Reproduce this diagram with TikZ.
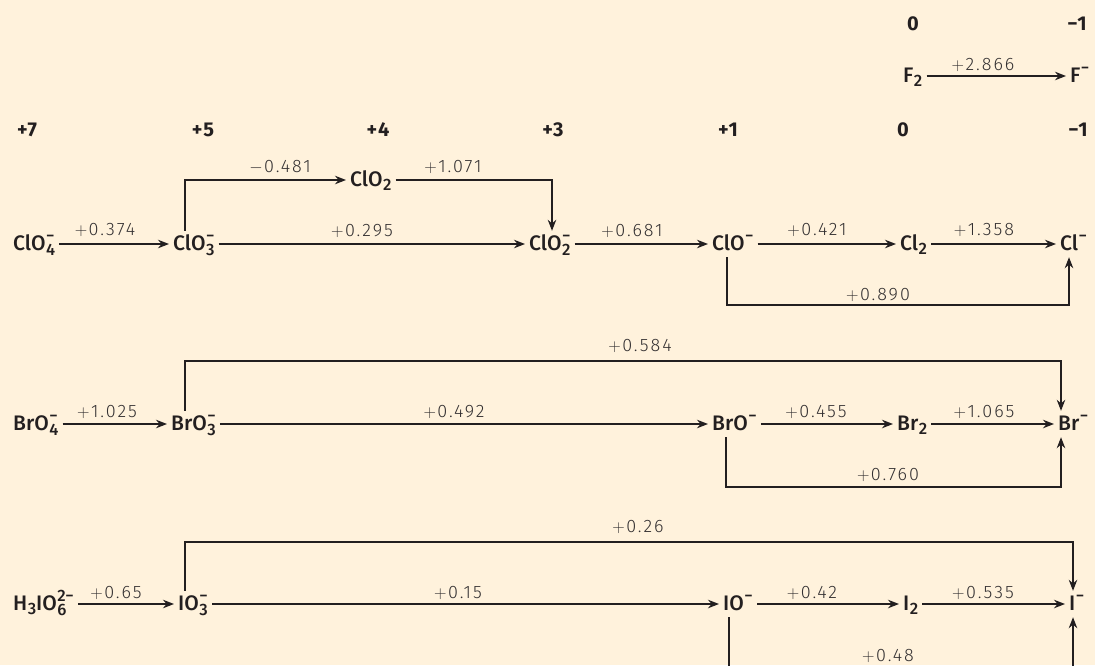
\documentclass[tikz,border=0pt]{standalone}
\usepackage{fontspec}
\setmainfont{Fira Sans}
\newfontfamily\potf{Fira Sans Light}[LetterSpace=11]
\newfontfamily\spf{Fira Sans Medium}
\newfontfamily\oxf{Fira Sans Bold}[LetterSpace=6]
\usetikzlibrary{arrows.meta}
\definecolor{bg}{HTML}{FFF2DC}
\definecolor{ink}{HTML}{231F20}
\definecolor{potc}{HTML}{333031}
\newcommand\subf{\spf\fontsize{16.5}{16.5}\selectfont}
\newcommand\SbSp[2]{\kern0.5pt\setbox0=\hbox{\raisebox{-5pt}{\subf #1}}%
  \setbox2=\hbox{\raisebox{9pt}{\subf #2}}%
  \ifdim\wd0>\wd2 \wd2=\wd0 \fi\rlap{\box0}\box2}
\newcommand\Sb[1]{\kern0.5pt\raisebox{-4.5pt}{\subf #1}}
\newcommand\Sp[1]{\kern0.5pt\raisebox{9pt}{\subf #1}}
\newcommand\Pl{\ensuremath{+}\kern1.5pt}
\newcommand\Mi{\ensuremath{-}\kern1.5pt}
\tikzset{
  sp/.style={inner xsep=4pt, inner ysep=3pt, text height=16pt, text depth=4pt,
    anchor=base west, font=\spf\fontsize{21}{21}\selectfont, text=ink},
  pot/.style={inner sep=0pt, anchor=center, font=\potf\fontsize{18}{18}\selectfont, text=potc},
  ox/.style={inner sep=0pt, anchor=center, font=\oxf\fontsize{20}{20}\selectfont, text=ink},
  conn/.style={draw=ink, line width=1.3pt},
  arr/.style={conn, -{Stealth[length=11pt,width=8.5pt]}}
}
\begin{document}
\begin{tikzpicture}[x=1pt,y=-1pt]
\fill[bg] (0,0) rectangle (1095,665);
\clip (0,0) rectangle (1095,665);
\useasboundingbox (0,0) rectangle (1095,665);
% oxidation states
\node[ox] (o1) at (913,24) {0};
\node[ox] (o2) at (1077,24) {−1};
\node[ox] (o3) at (27,130) {+7};
\node[ox] (o4) at (203,130) {+5};
\node[ox] (o5) at (378,130) {+4};
\node[ox] (o6) at (553,130) {+3};
\node[ox] (o7) at (728,130) {+1};
\node[ox] (o8) at (903,130) {0};
\node[ox] (o9) at (1078,130) {−1};
% fluorine
\node[sp] (f2) at (899,82) {F\Sb{2}};
\node[sp] (fm) at (1066,82) {F\Sp{−}};
\draw[arr] (f2) -- (fm);
\node[pot] (pf) at (983,65) {\Pl2.866};
% chlorine
\node[sp] (c4) at (9,250) {ClO\SbSp{4}{−}};
\node[sp] (c3) at (169,250) {ClO\SbSp{3}{−}};
\node[sp] (c2n) at (346,186) {ClO\Sb{2}};
\node[sp] (c2) at (525,250) {ClO\SbSp{2}{−}};
\node[sp] (c1) at (708,250) {ClO\Sp{−}};
\node[sp] (c0) at (896,250) {Cl\Sb{2}};
\node[sp] (cm) at (1056,250) {Cl\Sp{−}};
\coordinate (k1) at (185,180);
\coordinate (k2) at (552,180);
\coordinate (k3) at (727,305);
\coordinate (k4) at (1069,305);
\draw[arr] (c4) -- (c3);
\draw[arr] (c3) -- (c2);
\draw[arr] (c2) -- (c1);
\draw[arr] (c1) -- (c0);
\draw[arr] (c0) -- (cm);
\draw[arr] (c3.north -| k1) -- (k1) -- (c2n.west |- k1);
\draw[arr] (c2n.east |- k2) -- (k2) -- (c2.north -| k2);
\draw[arr] (c1.south -| k3) -- (k3) -- (k4) -- (cm.south -| k4);
\node[pot] (p1) at (105,230) {\Pl0.374};
\node[pot] (p2) at (280,167) {\Mi0.481};
\node[pot] (p3) at (453,167) {\Pl1.071};
\node[pot] (p4) at (362,231) {\Pl0.295};
\node[pot] (p5) at (632,231) {\Pl0.681};
\node[pot] (p6) at (817,230) {\Pl0.421};
\node[pot] (p7) at (984,230) {\Pl1.358};
\node[pot] (p8) at (878,295) {\Pl0.890};
% bromine
\node[sp] (b4) at (9,430) {BrO\SbSp{4}{−}};
\node[sp] (b3) at (167,430) {BrO\SbSp{3}{−}};
\node[sp] (b1) at (708,430) {BrO\Sp{−}};
\node[sp] (b0) at (893,430) {Br\Sb{2}};
\node[sp] (bm) at (1054,430) {Br\Sp{−}};
\coordinate (m1) at (185,361);
\coordinate (m2) at (1061,361);
\coordinate (m3) at (726,487);
\coordinate (m4) at (1061,487);
\draw[arr] (b4) -- (b3);
\draw[arr] (b3) -- (b1);
\draw[arr] (b1) -- (b0);
\draw[arr] (b0) -- (bm);
\draw[arr] (b3.north -| m1) -- (m1) -- (m2) -- (bm.north -| m2);
\draw[arr] (b1.south -| m3) -- (m3) -- (m4) -- (bm.south -| m4);
\node[pot] (q1) at (640,346) {\Pl0.584};
\node[pot] (q2) at (107,412) {\Pl1.025};
\node[pot] (q3) at (454,412) {\Pl0.492};
\node[pot] (q4) at (816,412) {\Pl0.455};
\node[pot] (q5) at (984,412) {\Pl1.065};
\node[pot] (q6) at (888,475) {\Pl0.760};
% iodine
\node[sp] (i7) at (9,610) {H\Sb{3}IO\SbSp{6}{2−}};
\node[sp] (i5) at (174,610) {IO\SbSp{3}{−}};
\node[sp] (i1) at (719,610) {IO\Sp{−}};
\node[sp] (i0) at (899,610) {I\Sb{2}};
\node[sp] (im) at (1065,610) {I\Sp{−}};
\coordinate (n1) at (185,542);
\coordinate (n2) at (1073,542);
\coordinate (n3) at (729,700);
\coordinate (n4) at (1073,700);
\draw[arr] (i7) -- (i5);
\draw[arr] (i5) -- (i1);
\draw[arr] (i1) -- (i0);
\draw[arr] (i0) -- (im);
\draw[arr] (i5.north -| n1) -- (n1) -- (n2) -- (im.north -| n2);
\draw[arr] (i1.south -| n3) -- (n3) -- (n4) -- (im.south -| n4);
\node[pot] (r1) at (638,527) {\Pl0.26};
\node[pot] (r2) at (116,593) {\Pl0.65};
\node[pot] (r3) at (458,593) {\Pl0.15};
\node[pot] (r4) at (812,593) {\Pl0.42};
\node[pot] (r5) at (983,593) {\Pl0.535};
\node[pot] (r6) at (888,656) {\Pl0.48};
\end{tikzpicture}
\end{document}
